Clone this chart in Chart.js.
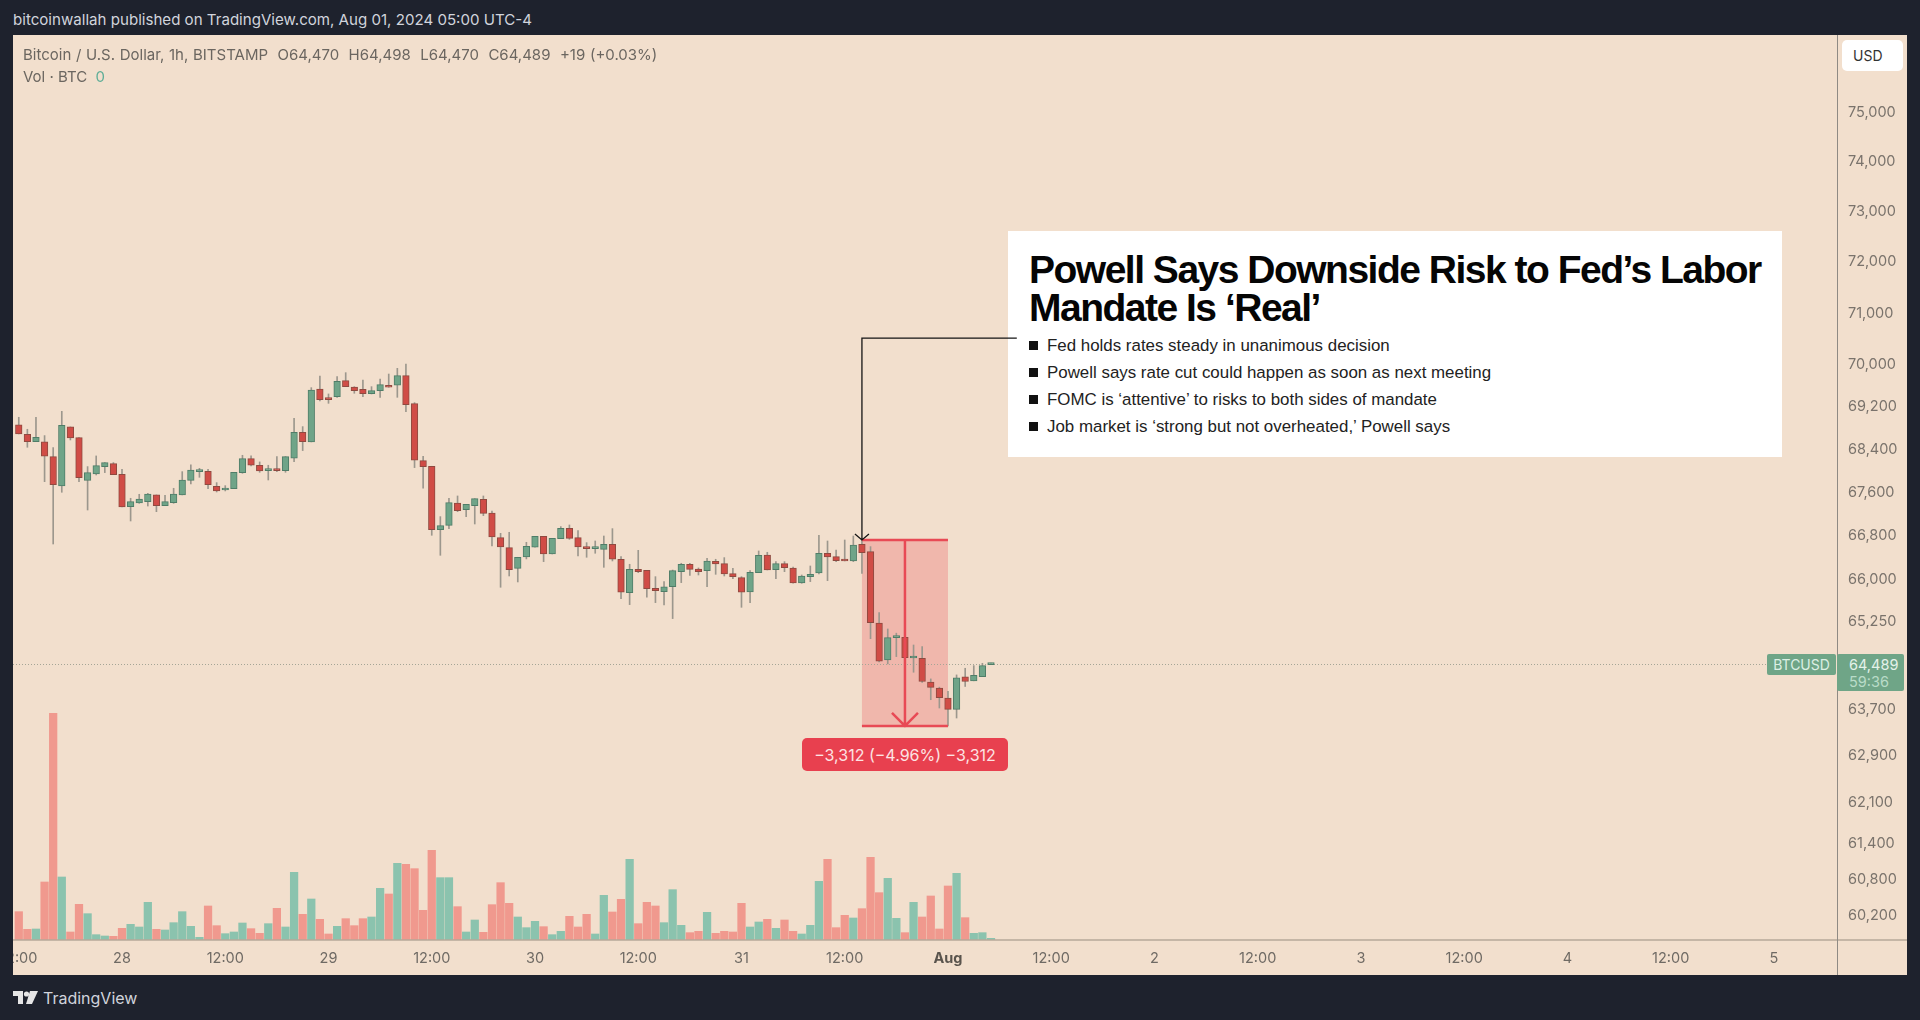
<!DOCTYPE html>
<html>
<head>
<meta charset="utf-8">
<title>BTCUSD 1h</title>
<script src="https://cdn.jsdelivr.net/npm/chart.js"></script>
<style>
  html, body { margin: 0; padding: 0; width: 1920px; height: 1020px; overflow: hidden; background: #1e222d; font-family: Inter, sans-serif; }
  .abs { position: absolute; white-space: nowrap; }
  #panel { left: 13px; top: 35px; width: 1894px; height: 940px; background: #f2dfcd; }
  #news { left: 1008px; top: 231px; width: 774px; height: 226px; background: #fff; }
  #chart { position: absolute; left: 13px; top: 35px; }
  .title { font-family: "Liberation Sans", sans-serif; font-weight: 700; font-size: 39px; letter-spacing: -1.5px; color: #050505; line-height: 38px; }
  .bullet { font-family: "Liberation Sans", sans-serif; font-size: 16.9px; color: #222; line-height: 20px; }
  .sq { width: 9px; height: 9px; background: #111; }
</style>
</head>
<body>
<div class="abs" id="panel"></div>
<div class="abs" id="news"></div>
<div class="abs title" style="left:1029px;top:251px">Powell Says Downside Risk to Fed’s Labor</div>
<div class="abs title" style="left:1029px;top:289px">Mandate Is ‘Real’</div>
<div class="abs sq" style="left:1029px;top:341px"></div>
<div class="abs bullet" style="left:1047px;top:336px">Fed holds rates steady in unanimous decision</div>
<div class="abs sq" style="left:1029px;top:368px"></div>
<div class="abs bullet" style="left:1047px;top:363px">Powell says rate cut could happen as soon as next meeting</div>
<div class="abs sq" style="left:1029px;top:395px"></div>
<div class="abs bullet" style="left:1047px;top:390px">FOMC is ‘attentive’ to risks to both sides of mandate</div>
<div class="abs sq" style="left:1029px;top:422px"></div>
<div class="abs bullet" style="left:1047px;top:417px">Job market is ‘strong but not overheated,’ Powell says</div>

<canvas id="chart" width="1894" height="940"></canvas>

<div class="abs" style="left:13px;top:10px;font-size:15.1px;color:#d1d4dc">bitcoinwallah published on TradingView.com, Aug 01, 2024 05:00 UTC-4</div>
<div class="abs" style="left:23px;top:45px;font-size:15px;color:#6b6660;word-spacing:0.5px">Bitcoin / U.S. Dollar, 1h, BITSTAMP&nbsp; O64,470&nbsp; H64,498&nbsp; L64,470&nbsp; C64,489&nbsp; +19 (+0.03%)</div>
<div class="abs" style="left:23px;top:67px;font-size:15px;color:#6b6660">Vol · BTC&nbsp; <span style="color:#5fae97">0</span></div>
<div class="abs" style="left:1842px;top:40px;width:61px;height:31px;background:#fff;border-radius:5px;font-size:14px;line-height:31px;color:#333;text-indent:11px">USD</div>
<div class="abs" style="left:1767px;top:654px;width:69px;height:21px;background:#6fa587;border-radius:2px;font-size:14px;line-height:21px;color:#dcefe4;text-align:center">BTCUSD</div>
<div class="abs" style="left:1837px;top:654px;width:67px;height:37px;background:#6fa587;border-radius:2px;font-size:14.5px;line-height:17px;color:#e4f2ea;padding:2px 0 0 12px;box-sizing:border-box">64,489<br><span style="color:#b9dcc8">59:36</span></div>
<div class="abs" style="left:802px;top:738px;width:206px;height:33px;background:#e8404f;border-radius:5px;font-size:16px;line-height:35px;color:#fde3e3;text-align:center">−3,312 (−4.96%) −3,312</div>

<svg class="abs" style="left:13px;top:991px" width="26" height="14" viewBox="0 0 26 14"><path d="M0 0h10v13H5V5H0z" fill="#e6e6e6"/><circle cx="13.5" cy="3" r="2.6" fill="#e6e6e6"/><path d="M17 0h8l-6 13h-6z" fill="#e6e6e6"/></svg>
<div class="abs" style="left:43px;top:988px;font-size:16px;line-height:20px;color:#d1d4dc">TradingView</div>

<script>
// hours from Jul 28 00:00, one candle per hour
const hours = [-12,-11,-10,-9,-8,-7,-6,-5,-4,-3,-2,-1,
  0,1,2,3,4,5,6,7,8,9,10,11,12,13,14,15,16,17,18,19,20,21,22,23,24,25,26,27,28,29,30,31,32,33,34,35,36,37,38,39,40,41,
  42,43,44,45,46,47,48,49,50,51,52,53,54,55,56,57,58,59,60,61,62,63,64,65,66,67,68,69,70,71,72,73,74,75,76,77,78,79,80,81,82,83,84,85,86,87,88,89,90,91,92,93,94,95,96,97,98,99,100,101];

const opens = [68843,68667,68529,68523,68249,67702,68805,68604,67807,67925,68062,68118,
  67919,67319,67387,67412,67536,67338,67393,67536,67807,67968,67974,67696,67628,67653,67950,68211,68087,67987,68012,67987,68217,68704,68523,69524,69346,69378,69683,69562,69518,69435,69492,69594,69594,69778,69245,68174,68068,66897,66977,67387,67264,67338,
  67455,67203,66751,66569,66193,66399,66575,66775,66453,66732,66922,66751,66587,66550,66538,66629,66357,65754,66175,66156,65832,65772,65862,66132,66266,66181,66150,66320,66278,66096,66024,65766,66114,66435,66169,66278,66199,65928,66042,66108,66466,66405,66344,66326,66629,66496,65210,64553,64950,64956,64588,64582,64161,64057,63883,63686,64254,64185,64260,64470];

const closes = [68673,68529,68610,68255,67727,68836,68598,67857,67950,68080,68137,67912,
  67313,67412,67461,67554,67338,67412,67554,67813,67999,67981,67727,67610,67647,67956,68211,68087,67981,68012,67987,68249,68704,68529,69505,69321,69321,69670,69568,69492,69435,69492,69606,69556,69778,69226,68180,68062,66897,66970,67393,67246,67362,67467,
  67197,66763,66581,66169,66393,66593,66775,66453,66738,66922,66738,66581,66550,66562,66629,66357,65760,66175,66132,65826,65790,65856,66150,66266,66175,66132,66326,66272,66090,66042,65760,66120,66429,66163,66278,66205,65928,66054,66084,66466,66399,66332,66326,66617,66478,65216,64530,64950,64967,64594,64600,64173,64069,63889,63686,64237,64173,64283,64453,64489];

const highs = [68987,68761,68987,68642,68417,69100,68805,68604,68062,68261,68137,68137,
  68012,67474,67548,67566,67536,67529,67659,67968,68093,68030,68012,67764,67708,67956,68273,68261,68149,68087,68249,68249,68968,68811,69549,69771,69429,69759,69835,69568,69695,69568,69714,69809,69918,70001,69264,68255,68068,67136,67474,67517,67362,67467,
  67517,67240,66830,66849,66393,66666,66775,66775,66738,66953,66983,66879,66660,66690,66781,66916,66405,66266,66520,66156,66042,65952,66162,66284,66284,66199,66375,66357,66387,66193,66042,66150,66508,66484,66314,66314,66217,66072,66235,66793,66690,66526,66708,66781,66709,66587,65395,65103,65028,64956,64818,64788,64219,64074,63999,64289,64406,64453,64494,64498];

const lows = [68673,68423,68529,67782,66635,67585,68560,67782,67258,67906,67950,67912,
  67313,67056,67381,67331,67227,67338,67381,67536,67739,67863,67653,67591,67610,67653,67937,68074,67956,67813,67968,67956,68155,68361,68523,69296,69251,69365,69568,69442,69378,69429,69365,69556,69365,69094,68043,67659,66794,66429,66916,67227,67136,67001,
  67154,66599,65850,66054,65946,66363,66575,66314,66453,66732,66720,66417,66393,66466,66211,66326,65646,65538,66114,65670,65574,65532,65288,65934,66066,66072,65862,66084,66054,66006,65490,65574,66114,66163,66006,66132,65922,65922,65952,66090,65970,66314,66326,66314,66102,64930,64518,64483,64612,64594,64336,64156,63854,63709,63397,63535,64086,64185,64260,64470];

const volumes = [85,32,33,174,680,189,24,107,79,16,12,11,
  35,47,39,113,32,30,52,85,41,8,102,43,19,24,51,34,20,49,95,39,203,77,123,62,18,41,64,43,64,69,155,138,230,227,214,89,269,187,187,100,24,60,
  23,106,172,110,69,37,56,40,16,26,71,39,77,18,134,84,122,242,49,113,102,52,151,44,22,26,83,20,26,24,110,39,54,62,35,60,26,18,44,176,242,37,74,66,94,248,142,185,65,22,113,69,132,33,162,200,67,20,22,5];

const priceTicks = [75000,74000,73000,72000,71000,70000,69200,68400,67600,66800,66000,65250,63700,62900,62100,61400,60800,60200];
const timeTickHours = [-12,0,12,24,36,48,60,72,84,96,108,120,132,144,156,168,180,192];
const timeTickLabels = ['12:00','28','12:00','29','12:00','30','12:00','31','12:00','Aug','12:00','2','12:00','3','12:00','4','12:00','5'];

const lastPrice = 64489;
const measureHours = [86, 96];
const measurePrices = [66709, 63397];
const calloutCorner = [86, 70500];
const calloutEndHour = 104;

const upFill = '#6fa488', downFill = '#d04c46';
const upEdge = '#4f7d68', downEdge = '#8f4a40';
const upVol = '#8bc3ae', downVol = '#f0998e';

const isUp = (i) => closes[i] >= opens[i];

// measure tool, callout line and pane frame
const overlayPlugin = {
    id: 'overlays',
    beforeDatasetsDraw(chart) {
        const { ctx, scales: { x, y }, chartArea } = chart;
        const x0 = x.getPixelForValue(measureHours[0]), x1 = x.getPixelForValue(measureHours[1]);
        const y0 = y.getPixelForValue(measurePrices[0]), y1 = y.getPixelForValue(measurePrices[1]);
        ctx.save();
        ctx.fillStyle = 'rgba(236,64,75,0.25)';
        ctx.fillRect(x0, y0, x1 - x0, y1 - y0);

        const py = Math.round(y.getPixelForValue(lastPrice)) + 0.5;
        ctx.strokeStyle = '#a5a596';
        ctx.lineWidth = 1;
        ctx.setLineDash([1, 2]);
        ctx.beginPath();
        ctx.moveTo(chartArea.left, py);
        ctx.lineTo(chartArea.right - 70, py);
        ctx.stroke();
        ctx.restore();
    },
    afterDatasetsDraw(chart) {
        const { ctx, scales: { x, y }, chartArea, width, height } = chart;
        const x0 = x.getPixelForValue(measureHours[0]), x1 = x.getPixelForValue(measureHours[1]);
        const y0 = y.getPixelForValue(measurePrices[0]), y1 = y.getPixelForValue(measurePrices[1]);
        const mid = (x0 + x1) / 2;
        ctx.save();
        ctx.strokeStyle = '#e84a55';
        ctx.lineWidth = 2.5;
        ctx.beginPath();
        ctx.moveTo(x0, y0); ctx.lineTo(x1, y0);
        ctx.moveTo(x0, y1); ctx.lineTo(x1, y1);
        ctx.moveTo(mid, y0); ctx.lineTo(mid, y1);
        ctx.moveTo(mid - 13, y1 - 13); ctx.lineTo(mid, y1); ctx.lineTo(mid + 13, y1 - 13);
        ctx.stroke();

        // callout from the news box down to the candle
        const cx = x.getPixelForValue(calloutCorner[0]), cy = y.getPixelForValue(calloutCorner[1]);
        ctx.strokeStyle = '#151515';
        ctx.lineWidth = 1.3;
        ctx.beginPath();
        ctx.moveTo(x.getPixelForValue(calloutEndHour), cy);
        ctx.lineTo(cx, cy);
        ctx.lineTo(cx, y0);
        ctx.moveTo(cx - 7, y0 - 6); ctx.lineTo(cx, y0); ctx.lineTo(cx + 7, y0 - 6);
        ctx.stroke();

        // axis lines run across the whole pane
        ctx.strokeStyle = '#b6a899';
        ctx.lineWidth = 1.5;
        ctx.beginPath();
        ctx.moveTo(0, chartArea.bottom); ctx.lineTo(width, chartArea.bottom);
        ctx.stroke();
        ctx.strokeStyle = '#8f8a84';
        ctx.lineWidth = 1;
        ctx.beginPath();
        ctx.moveTo(chartArea.right + 0.5, 0); ctx.lineTo(chartArea.right + 0.5, height);
        ctx.stroke();
        ctx.restore();
    }
};

new Chart(document.getElementById('chart'), {
    type: 'bar',
    data: {
        datasets: [
            {
                label: 'Volume',
                yAxisID: 'vol',
                data: hours.map((h, i) => ({ x: h, y: volumes[i] })),
                backgroundColor: (c) => isUp(c.dataIndex) ? upVol : downVol,
                barThickness: 7.6,
                order: 3
            },
            {
                label: 'Wick',
                yAxisID: 'y',
                data: hours.map((h, i) => ({ x: h, y: [lows[i], highs[i]] })),
                backgroundColor: '#9c978d',
                barThickness: 1,
                order: 2
            },
            {
                label: 'Body',
                yAxisID: 'y',
                data: hours.map((h, i) => ({ x: h, y: [opens[i], closes[i]] })),
                backgroundColor: (c) => isUp(c.dataIndex) ? upFill : downFill,
                borderColor: (c) => isUp(c.dataIndex) ? upEdge : downEdge,
                borderWidth: 1,
                borderSkipped: false,
                barThickness: 6.6,
                minBarLength: 2,
                order: 1
            }
        ]
    },
    options: {
        responsive: false,
        animation: false,
        devicePixelRatio: 1,
        layout: { padding: 0 },
        datasets: { bar: { grouped: false } },
        plugins: { legend: { display: false }, tooltip: { enabled: false } },
        scales: {
            x: {
                type: 'linear',
                offset: false,
                min: -12.67,
                max: 199.33,
                grid: { display: false },
                border: { display: false },
                afterBuildTicks(scale) { scale.ticks = timeTickHours.map((v) => ({ value: v })); },
                afterFit(scale) { scale.height = 35; scale.paddingLeft = 0; scale.paddingRight = 0; },
                ticks: {
                    autoSkip: false,
                    maxRotation: 0,
                    padding: 2,
                    color: (c) => c.tick && timeTickLabels[c.index] === 'Aug' ? '#5a544d' : '#6f6a64',
                    font: (c) => ({ family: 'Inter', size: 14.5, weight: c.tick && timeTickLabels[c.index] === 'Aug' ? '700' : '400' }),
                    callback: (v, i) => timeTickLabels[i]
                }
            },
            y: {
                type: 'logarithmic',
                position: 'right',
                min: 59789,
                max: 76598,
                grid: { display: false },
                border: { display: false },
                afterBuildTicks(scale) { scale.ticks = priceTicks.map((v) => ({ value: v })); },
                afterFit(scale) { scale.width = 70; scale.paddingTop = 0; scale.paddingBottom = 0; },
                ticks: {
                    autoSkip: false,
                    padding: 3,
                    labelOffset: 1,
                    color: '#7a736c',
                    font: { family: 'Inter', size: 14.5 },
                    callback: (v) => v.toLocaleString('en-US')
                }
            },
            vol: {
                type: 'linear',
                display: false,
                min: 0,
                max: 2715
            }
        }
    },
    plugins: [overlayPlugin]
});
</script>
</body>
</html>
